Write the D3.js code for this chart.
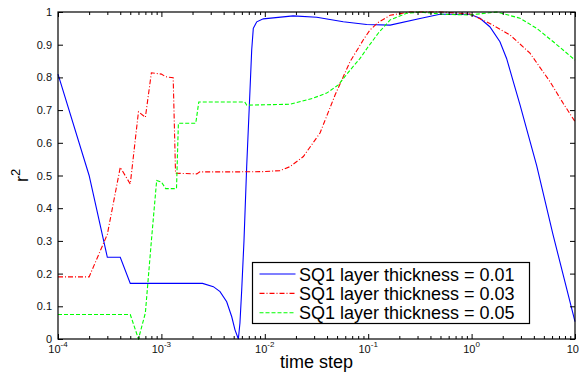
<!DOCTYPE html>
<html>

<head>
    <title>r2 vs time step</title>
    <script src="https://d3js.org/d3.v7.min.js"></script>
    <style>
        body { margin: 0; background: #fff; }
        text { font-family: Arial, "Liberation Sans", sans-serif; }
    </style>
</head>

<body>
    <div id="chart"></div>

    <script>
        // Data: [time step, r^2]
        const thick001 = [
            [1e-4, 0.81], [2e-4, 0.50], [3e-4, 0.25], [4e-4, 0.25], [5e-4, 0.17],
            [1e-3, 0.17], [2.5e-3, 0.17], [3.18e-3, 0.16], [3.69e-3, 0.145], [4.28e-3, 0.114],
            [4.79e-3, 0.068], [5.15e-3, 0.028], [5.55e-3, 0.0], [5.75e-3, 0.049], [5.98e-3, 0.15],
            [6.29e-3, 0.30], [6.68e-3, 0.527], [7.1e-3, 0.72], [7.47e-3, 0.884], [7.74e-3, 0.95],
            [8.36e-3, 0.97], [9.67e-3, 0.979], [0.0188, 0.988], [0.0318, 0.984], [0.0574, 0.97],
            [0.0966, 0.962], [0.163, 0.96], [0.317, 0.98], [0.494, 0.993], [0.966, 0.993],
            [1.205, 0.981], [1.5, 0.955], [1.88, 0.909], [2.18, 0.858], [2.53, 0.787],
            [2.94, 0.716], [3.53, 0.624], [4.26, 0.53], [6.12, 0.32], [10, 0.053]
        ];
        const thick003 = [
            [1e-4, 0.19], [2e-4, 0.19], [3e-4, 0.32], [4e-4, 0.525], [5e-4, 0.474],
            [6e-4, 0.695], [7e-4, 0.678], [8e-4, 0.814], [1e-3, 0.81], [1.1e-3, 0.802],
            [1.3e-3, 0.799], [1.37e-3, 0.507], [2.2e-3, 0.505], [2.35e-3, 0.511], [5e-3, 0.511],
            [0.01, 0.512], [0.014, 0.515], [0.0175, 0.527], [0.0236, 0.558], [0.0342, 0.63],
            [0.0478, 0.746], [0.0667, 0.848], [0.0898, 0.915], [0.104, 0.945], [0.125, 0.968],
            [0.163, 0.99], [0.254, 1.0], [0.5, 1.0], [0.966, 0.994], [1.5, 0.965],
            [2.35, 0.93], [3.67, 0.874], [5.73, 0.787], [7.71, 0.72], [10, 0.665]
        ];
        const thick005 = [
            [1e-4, 0.075], [5e-4, 0.075], [6e-4, 0.0], [7e-4, 0.08], [8e-4, 0.30],
            [9e-4, 0.485], [1e-3, 0.48], [1.1e-3, 0.46], [1.4e-3, 0.46], [1.46e-3, 0.66],
            [2.15e-3, 0.66], [2.3e-3, 0.725], [6.4e-3, 0.725], [6.7e-3, 0.715], [0.0175, 0.718],
            [0.029, 0.736], [0.0397, 0.752], [0.0514, 0.777], [0.0667, 0.822], [0.0834, 0.858],
            [0.098, 0.89], [0.125, 0.935], [0.163, 0.976], [0.236, 0.996], [0.317, 1.0],
            [0.532, 0.993], [0.966, 0.991], [1.75, 1.0], [2.94, 0.981], [4.26, 0.95],
            [6.17, 0.909], [10, 0.853]
        ];

        const seriesNames = ['SQ1 layer thickness = 0.01', 'SQ1 layer thickness = 0.03', 'SQ1 layer thickness = 0.05'];
        const seriesColors = ['#0000ff', '#ff0000', '#00ff00'];
        const seriesDashes = [null, '5,2,1,2', '4,2'];

        const yTicks = [0, 0.1, 0.2, 0.3, 0.4, 0.5, 0.6, 0.7, 0.8, 0.9, 1];
        const xDecades = [-4, -3, -2, -1, 0, 1];

        const width = 579;
        const height = 372;
        const margin = { left: 58, top: 12, right: 4, bottom: 33 };
        const plotW = width - margin.left - margin.right;
        const plotH = height - margin.top - margin.bottom;

        const svg = d3.select('#chart').append('svg')
                      .attr('width', width)
                      .attr('height', height);

        const g = svg.append('g')
                     .attr('transform', `translate(${margin.left},${margin.top})`);

        // Scales
        const xScale = d3.scaleLog()
                         .domain([1e-4, 10])
                         .range([0, plotW]);
        const yScale = d3.scaleLinear()
                         .domain([0, 1])
                         .range([plotH, 0]);

        const majorX = xDecades.map((e) => Math.pow(10, e));
        const minorX = [];
        xDecades.slice(0, -1).forEach((e) => {
            for (let k = 2; k <= 9; k++) minorX.push(k * Math.pow(10, e));
        });

        // Lines
        g.append('clipPath').attr('id', 'clip')
         .append('rect').attr('x', -1).attr('y', -1).attr('width', plotW + 2).attr('height', plotH + 2);

        const line = d3.line()
                       .x((d) => xScale(d[0]))
                       .y((d) => yScale(d[1]));

        [thick001, thick003, thick005].forEach((s, i) => {
            g.append('path')
             .datum(s)
             .attr('clip-path', 'url(#clip)')
             .attr('d', line)
             .attr('fill', 'none')
             .attr('stroke', seriesColors[i])
             .attr('stroke-width', 1.1)
             .attr('stroke-dasharray', seriesDashes[i]);
        });

        // Ticks (inside, on all four sides)
        const tickStyle = (sel) => {
            sel.select('.domain').remove();
            sel.selectAll('line').attr('stroke', '#000');
        };

        g.append('g').attr('transform', `translate(0,${plotH})`)
         .call(d3.axisBottom(xScale).tickValues(minorX).tickSize(-3).tickFormat(''))
         .call(tickStyle);
        g.append('g').attr('transform', `translate(0,${plotH})`)
         .call(d3.axisBottom(xScale).tickValues(majorX).tickSize(-5).tickFormat(''))
         .call(tickStyle);
        g.append('g')
         .call(d3.axisTop(xScale).tickValues(minorX).tickSize(-3).tickFormat(''))
         .call(tickStyle);
        g.append('g')
         .call(d3.axisTop(xScale).tickValues(majorX).tickSize(-5).tickFormat(''))
         .call(tickStyle);

        g.append('g')
         .call(d3.axisLeft(yScale).tickValues(yTicks).tickSize(-5).tickPadding(6)
                 .tickFormat((d) => String(+d.toFixed(1))))
         .call(tickStyle)
         .selectAll('text')
         .attr('font-size', 11)
         .attr('fill', '#111');
        g.append('g').attr('transform', `translate(${plotW},0)`)
         .call(d3.axisRight(yScale).tickValues(yTicks).tickSize(-5).tickFormat(''))
         .call(tickStyle);

        // X tick labels: 10 with superscript exponent
        xDecades.forEach((e) => {
            const t = g.append('text')
                       .attr('x', xScale(Math.pow(10, e)))
                       .attr('y', plotH + 14)
                       .attr('text-anchor', 'middle')
                       .attr('font-size', 11)
                       .attr('fill', '#111');
            t.append('tspan').text('10');
            t.append('tspan').attr('dy', -6).attr('font-size', 8).text(String(e));
        });

        // Frame
        g.append('rect')
         .attr('width', plotW)
         .attr('height', plotH)
         .attr('fill', 'none')
         .attr('stroke', '#000')
         .attr('stroke-width', 1.2);

        // Axis labels
        svg.append('text')
           .attr('x', margin.left + plotW / 2)
           .attr('y', 368)
           .attr('text-anchor', 'middle')
           .attr('font-size', 18)
           .text('time step');

        const yl = svg.append('text')
                      .attr('transform', `translate(28,${margin.top + plotH / 2}) rotate(-90)`)
                      .attr('text-anchor', 'middle')
                      .attr('font-size', 18);
        yl.append('tspan').text('r');
        yl.append('tspan').attr('dy', -8).attr('font-size', 13).text('2');

        // Legend
        const legX = 252.5, legY = 262.5, legW = 277, legH = 61;
        const leg = svg.append('g');
        leg.append('rect')
           .attr('x', legX).attr('y', legY)
           .attr('width', legW).attr('height', legH)
           .attr('fill', '#fff')
           .attr('stroke', '#000')
           .attr('stroke-width', 1.2);

        seriesNames.forEach((name, i) => {
            const cy = legY + 11.5 + i * 19.4;
            leg.append('line')
               .attr('x1', legX + 7).attr('x2', legX + 43)
               .attr('y1', cy).attr('y2', cy)
               .attr('stroke', seriesColors[i])
               .attr('stroke-width', 1.1)
               .attr('stroke-dasharray', seriesDashes[i]);
            leg.append('text')
               .attr('x', legX + 46.5)
               .attr('y', cy + 6.5)
               .attr('font-size', 18)
               .text(name);
        });
    </script>
</body>

</html>
